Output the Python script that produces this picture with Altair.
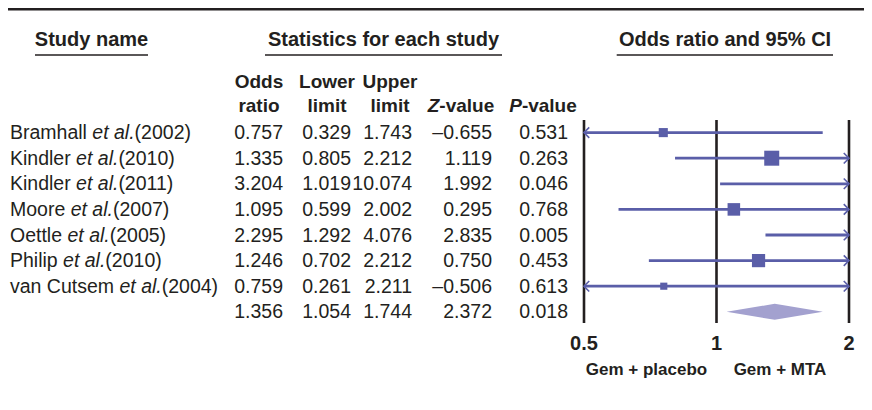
import altair as alt
import pandas as pd

# ---------------- data ----------------
names = ["Bramhall", "Kindler", "Kindler", "Moore", "Oettle", "Philip", "van Cutsem"]
years = ["(2002)", "(2010)", "(2011)", "(2007)", "(2005)", "(2010)", "(2004)"]
odds_ratio = [0.757, 1.335, 3.204, 1.095, 2.295, 1.246, 0.759]
lower = [0.329, 0.805, 1.019, 0.599, 1.292, 0.702, 0.261]
upper = [1.743, 2.212, 10.074, 2.002, 4.076, 2.212, 2.211]
z_value = [-0.655, 1.119, 1.992, 0.295, 2.835, 0.750, -0.506]
p_value = [0.531, 0.263, 0.046, 0.768, 0.005, 0.453, 0.613]
weight = [9.1, 24.8, 4.8, 17.4, 19.2, 19.2, 5.6]  # relative weight (%), from square areas

pooled_or, pooled_lo, pooled_hi = 1.356, 1.054, 1.744
pooled_z, pooled_p = 2.372, 0.018

axis_ticks = [0.5, 1, 2]
axis_tick_labels = ["0.5", "1", "2"]
side_labels = ["Gem + placebo", "Gem + MTA"]

# ---------------- styling ----------------
FONT = "Liberation Sans"
FS = 19.5
TXT = "#231f20"
BLUE = "#5a5ea8"
LIGHT = "#a3a1cf"
W, H = 856, 394

AW = {' ': 278, '(': 333, ')': 333, '.': 278, 'a': 556, 'b': 556, 'c': 500, 'd': 556,
      'e': 556, 'h': 556, 'i': 222, 'l': 222, 'm': 833, 'n': 556, 'o': 556, 'p': 556,
      'r': 333, 's': 500, 't': 278, 'u': 556, 'v': 500, 'B': 667, 'C': 722, 'K': 667,
      'M': 833, 'O': 778, 'P': 667}
for d in "0123456789":
    AW[d] = 556


def tw(s, size=FS):
    return sum(AW.get(c, 556) for c in s) * size / 1000.0


def fmt(v):
    return f"{v:.3f}".replace("-", "\u2013")


rows = list(range(len(names)))
df = pd.DataFrame({
    "row": rows,
    "name": names,
    "year": years,
    "etal": ["et al."] * len(names),
    "nx": [2.0] * len(names),
    "ex": [2.0 + tw(n + " ") for n in names],
    "yx": [2.0 + tw(n + " ") + tw("et al.") for n in names],
    "or_": odds_ratio,
    "lo": lower,
    "hi": upper,
    "weight": weight,
    "or_t": [fmt(v) for v in odds_ratio],
    "lo_t": [fmt(v) for v in lower],
    "hi_t": [fmt(v) for v in upper],
    "z_t": [fmt(v) for v in z_value],
    "p_t": [fmt(v) for v in p_value],
})

tot = pd.DataFrame({
    "row": [len(names)],
    "or_t": [fmt(pooled_or)], "lo_t": [fmt(pooled_lo)], "hi_t": [fmt(pooled_hi)],
    "z_t": [fmt(pooled_z)], "p_t": [fmt(pooled_p)],
})
table_all = pd.concat([df[["row", "or_t", "lo_t", "hi_t", "z_t", "p_t"]], tot], ignore_index=True)

half = 0.3125
diamond = pd.DataFrame({
    "x": [pooled_lo, pooled_or, pooled_hi],
    "y": [len(names), len(names) - half, len(names)],
    "y2": [len(names), len(names) + half, len(names)],
})

ysc = alt.Scale(domain=[0, 7], range=[124.6, 303.8], nice=False, zero=False)
Y = alt.Y("row:Q", scale=ysc, axis=None)
xlog = alt.Scale(type="log", domain=[0.5, 2], range=[576, 841], nice=False)
pxs = alt.Scale(domain=[0, W], range=[0, W], nice=False, zero=False)

layers = []

# study names (three segments: name, italic et al., year)
base = alt.Chart(df)
for field, xf, style in [("name", "nx", "normal"), ("etal", "ex", "italic"), ("year", "yx", "normal")]:
    layers.append(base.mark_text(align="left", baseline="alphabetic", dy=6.5, font=FONT,
                                 fontSize=FS, fontStyle=style, color=TXT)
                  .encode(x=alt.X(f"{xf}:Q", scale=pxs, axis=None), y=Y, text=f"{field}:N"))

# numeric columns
tbase = alt.Chart(table_all)
for field, xr in [("or_t", 275), ("lo_t", 343), ("hi_t", 404), ("z_t", 484), ("p_t", 560)]:
    layers.append(tbase.mark_text(align="right", baseline="alphabetic", dy=6.5, font=FONT,
                                  fontSize=FS, color=TXT)
                  .encode(x=alt.value(xr), y=Y, text=f"{field}:N"))


def label(txt, x, y, size=20, weight="bold", style="normal", align="center"):
    return (alt.Chart(pd.DataFrame({"t": [txt]}))
            .mark_text(align=align, baseline="alphabetic", font=FONT, fontSize=size,
                       fontWeight=weight, fontStyle=style, color=TXT)
            .encode(x=alt.value(x), y=alt.value(y), text="t:N"))


def hrule(x1, x2, y, sw):
    return (alt.Chart(pd.DataFrame({"a": [0]}))
            .mark_rule(color=TXT, strokeWidth=sw)
            .encode(x=alt.value(x1), x2=alt.value(x2), y=alt.value(y)))


# top rule and group headers
layers.append(hrule(0, W, 1.2, 2.6))
layers.append(label("Study name", 83.5, 38))
layers.append(label("Statistics for each study", 375.5, 38))
layers.append(label("Odds ratio and 95% CI", 717, 38))
layers.append(hrule(27, 140, 47, 1.5))
layers.append(hrule(257, 494, 47, 1.5))
layers.append(hrule(608.7, 825, 47, 1.5))

# column headers
CH = 19
for t1, t2, cx in [("Odds", "ratio", 251), ("Lower", "limit", 319), ("Upper", "limit", 382)]:
    layers.append(label(t1, cx, 80, size=CH))
    layers.append(label(t2, cx, 103.5, size=CH))
zx0 = 453 - (611 + 2890) * CH / 2000.0
layers.append(label("Z", zx0, 103.5, size=CH, style="italic", align="left"))
layers.append(label("-value", zx0 + 611 * CH / 1000.0, 103.5, size=CH, align="left"))
px0 = 535 - (667 + 2890) * CH / 2000.0
layers.append(label("P", px0, 103.5, size=CH, style="italic", align="left"))
layers.append(label("-value", px0 + 667 * CH / 1000.0, 103.5, size=CH, align="left"))

# forest plot
ticks = pd.DataFrame({"v": axis_ticks, "lab": axis_tick_labels})
layers.append(alt.Chart(ticks).mark_rule(color=TXT, strokeWidth=2.6)
              .encode(x=alt.X("v:Q", scale=xlog, axis=None), y=alt.value(112), y2=alt.value(315)))
layers.append(alt.Chart(ticks).mark_text(baseline="alphabetic", font=FONT, fontSize=20,
                                         fontWeight="bold", color=TXT)
              .encode(x=alt.X("v:Q", scale=xlog, axis=None), y=alt.value(342), text="lab:N"))
layers.append(label(side_labels[0], 638.5, 367, size=17))
layers.append(label(side_labels[1], 772, 367, size=17))

fb = base.transform_calculate(lo_c="max(datum.lo, 0.5)", hi_c="min(datum.hi, 2)")
layers.append(fb.mark_rule(color=BLUE, strokeWidth=2.8)
              .encode(x=alt.X("lo_c:Q", scale=xlog, axis=None), x2="hi_c:Q", y=Y))
layers.append(fb.transform_filter("datum.lo < 0.5")
              .mark_point(shape="M1,-1L0,0L1,1", size=110, filled=False, color=BLUE,
                          strokeWidth=1.6, opacity=1)
              .encode(x=alt.X("lo_c:Q", scale=xlog, axis=None), y=Y))
layers.append(fb.transform_filter("datum.hi > 2")
              .mark_point(shape="M-1,-1L0,0L-1,1", size=110, filled=False, color=BLUE,
                          strokeWidth=1.6, opacity=1)
              .encode(x=alt.X("hi_c:Q", scale=xlog, axis=None), y=Y))
layers.append(base.transform_filter("datum.or_ >= 0.5 && datum.or_ <= 2")
              .mark_square(color=BLUE, opacity=1)
              .encode(x=alt.X("or_:Q", scale=xlog, axis=None), y=Y,
                      size=alt.Size("weight:Q", scale=alt.Scale(domain=[0, 24.8], range=[0, 225]),
                                    legend=None)))
layers.append(alt.Chart(diamond).mark_area(color=LIGHT, opacity=1)
              .encode(x=alt.X("x:Q", scale=xlog, axis=None),
                      y=alt.Y("y:Q", scale=ysc, axis=None), y2="y2:Q"))

chart = (alt.layer(*layers)
         .resolve_scale(x="independent")
         .properties(width=W, height=H, padding=0,
                     autosize=alt.AutoSizeParams(type="none"), background="white")
         .configure_view(stroke=None))

chart.save("out.html", embed_options={"renderer": "svg", "actions": False})
